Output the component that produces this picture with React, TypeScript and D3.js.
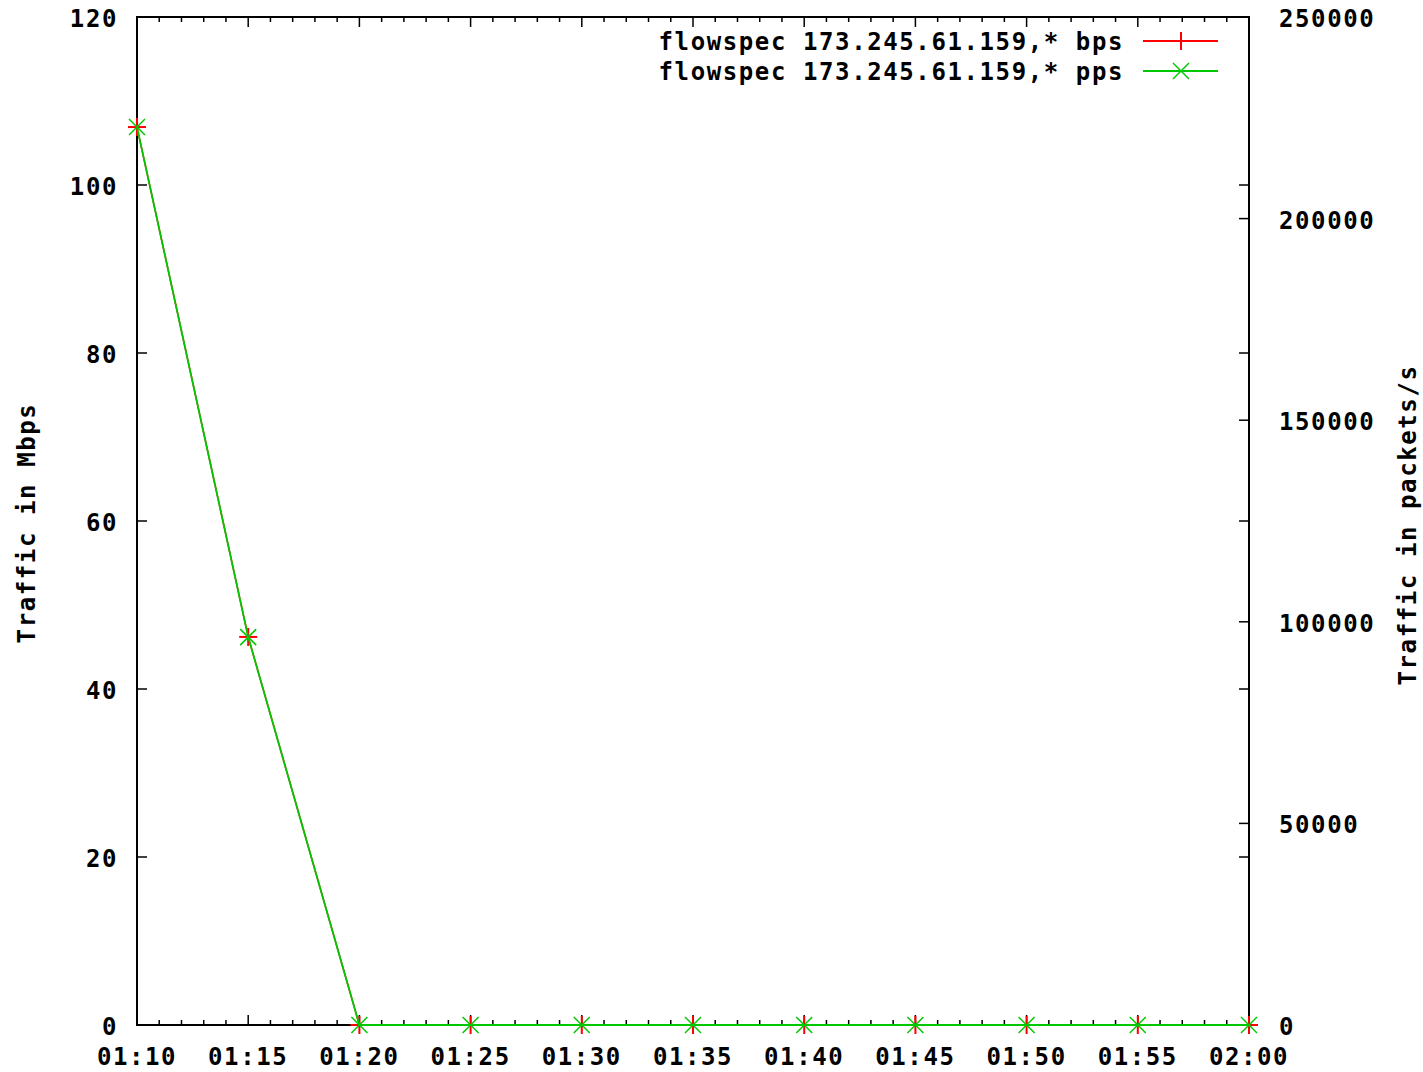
import React from 'react';
import * as d3 from 'd3';

// sample times (UTC, 5 min step)
const times = ['01:10', '01:15', '01:20', '01:25', '01:30', '01:35', '01:40', '01:45', '01:50', '01:55', '02:00'];
const bpsValues = [106.9, 46.2, 0, 0, 0, 0, 0, 0, 0, 0, 0];
const ppsValues = [222700, 96200, 0, 0, 0, 0, 0, 0, 0, 0, 0];
const leftTicks = [0, 20, 40, 60, 80, 100, 120];
const rightTicks = [0, 50000, 100000, 150000, 200000, 250000];
const seriesNames = ['flowspec 173.245.61.159,* bps', 'flowspec 173.245.61.159,* pps'];

const parseTime = d3.utcParse('%H:%M');
const formatTime = d3.utcFormat('%H:%M');

const W = 1423;
const H = 1072;
const margin = { top: 17, right: 174, bottom: 47, left: 137 };
const font = "'DejaVu Sans Mono', 'Liberation Mono', monospace";

function App() {
    const ref = React.useRef(null);

    React.useEffect(() => {
        const width = W - margin.left - margin.right;
        const height = H - margin.top - margin.bottom;
        const dates = times.map(t => parseTime(t));

        d3.select(ref.current).selectAll('*').remove();
        const svg = d3.select(ref.current)
            .attr('width', W)
            .attr('height', H)
            .append('g')
            .attr('transform', 'translate(' + margin.left + ',' + margin.top + ')');

        const x = d3.scaleUtc().domain(d3.extent(dates)).range([0, width]);
        const y = d3.scaleLinear().domain([0, 120]).range([height, 0]);
        const y2 = d3.scaleLinear().domain([0, 250000]).range([height, 0]);

        const textStyle = sel => sel
            .style('font-family', font)
            .style('font-weight', 'bold')
            .style('font-size', '24px')
            .style('letter-spacing', '1.6px')
            .attr('fill', 'black');

        // ticks, all pointing inward
        const majorX = x.ticks(d3.utcMinute.every(5));
        const minorX = x.ticks(d3.utcMinute.every(1)).filter(d => d.getUTCMinutes() % 5 !== 0);
        const tickG = svg.append('g').attr('stroke', 'black').attr('stroke-width', 1.5);
        majorX.forEach(d => {
            tickG.append('line').attr('x1', x(d)).attr('x2', x(d)).attr('y1', height).attr('y2', height - 10);
            tickG.append('line').attr('x1', x(d)).attr('x2', x(d)).attr('y1', 0).attr('y2', 10);
        });
        minorX.forEach(d => {
            tickG.append('line').attr('x1', x(d)).attr('x2', x(d)).attr('y1', height).attr('y2', height - 5);
            tickG.append('line').attr('x1', x(d)).attr('x2', x(d)).attr('y1', 0).attr('y2', 5);
        });
        leftTicks.forEach(v => {
            tickG.append('line').attr('x1', 0).attr('x2', 10).attr('y1', y(v)).attr('y2', y(v));
            tickG.append('line').attr('x1', width).attr('x2', width - 10).attr('y1', y(v)).attr('y2', y(v));
        });
        rightTicks.forEach(v => {
            tickG.append('line').attr('x1', width).attr('x2', width - 10).attr('y1', y2(v)).attr('y2', y2(v));
        });

        // border
        svg.append('rect')
            .attr('width', width).attr('height', height)
            .attr('fill', 'none').attr('stroke', 'black').attr('stroke-width', 2);

        // tick labels
        majorX.forEach(d => {
            svg.append('text').call(textStyle)
                .attr('x', x(d)).attr('y', height + 32)
                .attr('text-anchor', 'middle').attr('dominant-baseline', 'central')
                .text(formatTime(d));
        });
        leftTicks.forEach(v => {
            svg.append('text').call(textStyle)
                .attr('x', -19).attr('y', y(v) + 2)
                .attr('text-anchor', 'end').attr('dominant-baseline', 'central')
                .text(v);
        });
        rightTicks.forEach(v => {
            svg.append('text').call(textStyle)
                .attr('x', width + 30).attr('y', y2(v) + 2)
                .attr('text-anchor', 'start').attr('dominant-baseline', 'central')
                .text(v);
        });

        // axis titles
        svg.append('text').call(textStyle)
            .attr('transform', 'translate(' + (27 - margin.left) + ',' + (height / 2 + 2) + ') rotate(-90)')
            .attr('text-anchor', 'middle').attr('dominant-baseline', 'central')
            .text('Traffic in Mbps');
        svg.append('text').call(textStyle)
            .attr('transform', 'translate(' + (width + 159) + ',' + (height / 2 + 4) + ') rotate(-90)')
            .attr('text-anchor', 'middle').attr('dominant-baseline', 'central')
            .text('Traffic in packets/s');

        const plus = (g, cx, cy, color) => {
            g.append('line').attr('x1', cx - 9).attr('x2', cx + 9).attr('y1', cy).attr('y2', cy)
                .attr('stroke', color).attr('stroke-width', 2);
            g.append('line').attr('x1', cx).attr('x2', cx).attr('y1', cy - 9).attr('y2', cy + 9)
                .attr('stroke', color).attr('stroke-width', 2);
        };
        const cross = (g, cx, cy, color) => {
            g.append('line').attr('x1', cx - 8).attr('x2', cx + 8).attr('y1', cy - 8).attr('y2', cy + 8)
                .attr('stroke', color).attr('stroke-width', 1.5);
            g.append('line').attr('x1', cx - 8).attr('x2', cx + 8).attr('y1', cy + 8).attr('y2', cy - 8)
                .attr('stroke', color).attr('stroke-width', 1.5);
        };

        const red = '#ff0000';
        const green = '#00c800';

        // bps series (left axis)
        svg.append('path')
            .datum(bpsValues)
            .attr('fill', 'none').attr('stroke', red).attr('stroke-width', 1.5)
            .attr('d', d3.line().x((d, i) => x(dates[i])).y(d => y(d)));
        const bpsG = svg.append('g');
        bpsValues.forEach((v, i) => plus(bpsG, x(dates[i]), y(v), red));

        // pps series (right axis)
        svg.append('path')
            .datum(ppsValues)
            .attr('fill', 'none').attr('stroke', green).attr('stroke-width', 1.8)
            .attr('d', d3.line().x((d, i) => x(dates[i])).y(d => y2(d)));
        const ppsG = svg.append('g');
        ppsValues.forEach((v, i) => cross(ppsG, x(dates[i]), y2(v), green));

        // legend
        const colors = [red, green];
        seriesNames.forEach((name, i) => {
            const ly = 24 + i * 30;
            svg.append('text').call(textStyle)
                .attr('x', 1124 - margin.left).attr('y', ly + 1)
                .attr('text-anchor', 'end').attr('dominant-baseline', 'central')
                .text(name);
            svg.append('line')
                .attr('x1', 1143 - margin.left).attr('x2', 1218 - margin.left)
                .attr('y1', ly).attr('y2', ly)
                .attr('stroke', colors[i]).attr('stroke-width', 2);
            if (i === 0) plus(svg, 1181 - margin.left, ly, red);
            else cross(svg, 1181 - margin.left, ly, green);
        });
    }, []);

    return (
        <div style={{ position: 'absolute', left: 0, top: 0, background: 'white' }}>
            <svg ref={ref} style={{ display: 'block' }} />
        </div>
    );
}

export default App;
